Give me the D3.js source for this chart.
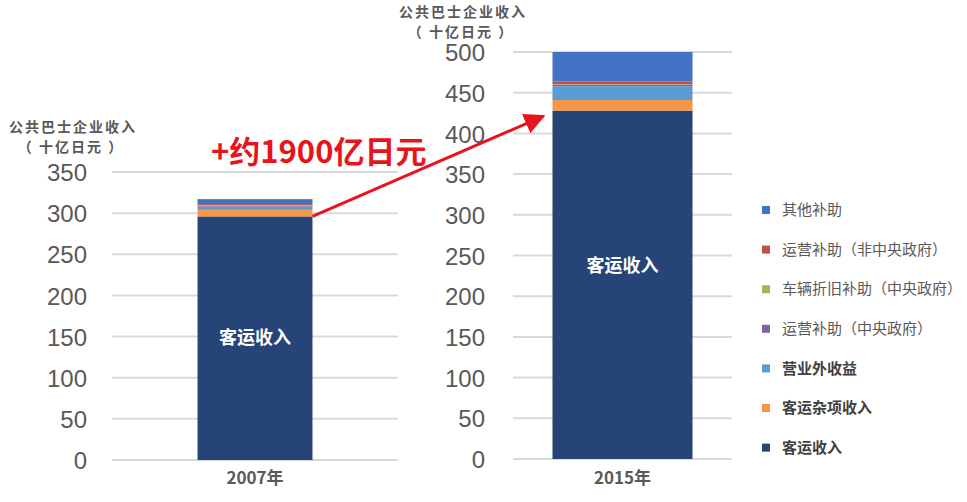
<!DOCTYPE html>
<html><head><meta charset="utf-8">
<script src="https://cdn.jsdelivr.net/npm/d3@7/dist/d3.min.js"></script>
<style>
html,body{margin:0;padding:0;background:#fff;}
svg{display:block;font-family:"Noto Sans CJK SC","Noto Sans",sans-serif;}
</style></head>
<body><svg id="c" width="967" height="502"></svg>
<script>
// ---- data ----
const years = ["2007年", "2015年"];
const seriesNames = ["客运收入", "客运杂项收入", "营业外收益", "运营补助（中央政府）", "车辆折旧补助（中央政府）", "运营补助（非中央政府）", "其他补助"];
const values2007 = [296, 8, 4, 1, 0.5, 1.5, 6];
const values2015 = [428, 13, 17, 2, 0.5, 3, 36.5];
const ticks2007 = [0, 50, 100, 150, 200, 250, 300, 350];
const ticks2015 = [0, 50, 100, 150, 200, 250, 300, 350, 400, 450, 500];
const axisTitle = ["公共巴士企业收入", "（ 十亿日元 ）"];
const barLabel = "客运收入";
const annotation = "+约1900亿日元";
const colors = ["#264478", "#f79646", "#5b9bd5", "#8064a2", "#9bbb59", "#c0504d", "#4472c4"];
const boldLegend = ["营业外收益", "客运杂项收入", "客运收入"];

const svg = d3.select("#c");
const gray = "#595959";

const panels = [
  {year: years[0], vals: values2007, ticks: ticks2007, max: 350, x0: 112, x1: 398, y0: 460, yTop: 172, pad: 0.4266, labelRight: 87, titleX: 73, titleY: 127, barLabelY: 338},
  {year: years[1], vals: values2015, ticks: ticks2015, max: 500, x0: 513, x1: 732, y0: 459, yTop: 52, pad: 0.22, labelRight: 485, titleX: 463, titleY: 12, barLabelY: 266}
];

const stack = d3.stack().keys(seriesNames);

panels.forEach(p => {
  const row = {year: p.year};
  seriesNames.forEach((k, i) => row[k] = p.vals[i]);
  const layers = stack([row]);
  const y = d3.scaleLinear().domain([0, p.max]).range([p.y0, p.yTop]);
  const x = d3.scaleBand().domain([p.year]).range([p.x0, p.x1]).paddingInner(p.pad).paddingOuter(p.pad);
  p.y = y; p.x = x; p.layers = layers;

  // gridlines
  svg.append("g").selectAll("line").data(p.ticks).join("line")
    .attr("x1", p.x0).attr("x2", p.x1)
    .attr("y1", d => y(d)).attr("y2", d => y(d))
    .attr("stroke", "#d9d9d9").attr("stroke-width", 2);

  // axis labels
  const ax = svg.append("g").attr("transform", `translate(${p.labelRight},0)`)
    .call(d3.axisLeft(y).tickValues(p.ticks).tickSize(0).tickPadding(0).tickFormat(d3.format("d")));
  ax.select(".domain").remove();
  ax.selectAll("text").attr("font-size", 24).attr("fill", gray)
    .attr("font-family", "'Liberation Sans','Noto Sans',sans-serif").attr("dy", "0.36em");

  // bars
  svg.append("g").selectAll("rect").data(layers).join("rect")
    .attr("x", x(p.year)).attr("width", x.bandwidth())
    .attr("y", d => y(d[0][1])).attr("height", d => y(d[0][0]) - y(d[0][1]))
    .attr("fill", (d, i) => colors[i]);

  // bar label
  svg.append("text").attr("x", x(p.year) + x.bandwidth() / 2)
    .attr("y", p.barLabelY).attr("dy", "0.35em")
    .attr("text-anchor", "middle").attr("fill", "#fff").attr("font-weight", "bold")
    .attr("font-size", 18).text(barLabel);

  // category label
  svg.append("text").attr("x", x(p.year) + x.bandwidth() / 2).attr("y", 478).attr("dy", "0.35em")
    .attr("text-anchor", "middle").attr("fill", gray).attr("font-weight", "bold")
    .attr("font-size", 17).text(p.year);

  // axis title
  svg.append("text").attr("x", p.titleX).attr("y", p.titleY).attr("dy", "0.35em")
    .attr("text-anchor", "middle").attr("fill", gray).attr("font-weight", "bold")
    .attr("font-size", 14).attr("letter-spacing", 2).text(axisTitle[0]);
  svg.append("text").attr("x", p.titleX - 2).attr("y", p.titleY + 20).attr("dy", "0.35em")
    .attr("text-anchor", "middle").attr("fill", gray).attr("font-weight", "bold")
    .attr("font-size", 14).attr("letter-spacing", 2).text(axisTitle[1]);
});

// arrow from top of 2007 passenger revenue to top of 2015 passenger revenue
const pA = panels[0], pB = panels[1];
const ax1 = pA.x(pA.year) + pA.x.bandwidth(), ay1 = pA.y(pA.layers[0][0][1]);
const ax2 = pB.x(pB.year) - 3, ay2 = pB.y(pB.layers[0][0][1]) + 3;
svg.append("defs").append("marker").attr("id", "ah").attr("viewBox", "0 0 10 10")
  .attr("refX", 9).attr("refY", 5).attr("markerWidth", 7).attr("markerHeight", 7)
  .attr("markerUnits", "strokeWidth").attr("orient", "auto")
  .append("path").attr("d", "M0,0 L10,5 L0,10 z").attr("fill", "#e8141b");
svg.append("line").attr("x1", ax1).attr("y1", ay1).attr("x2", ax2 - 6).attr("y2", ay2 + 2.5)
  .attr("stroke", "#e8141b").attr("stroke-width", 3).attr("marker-end", "url(#ah)");

svg.append("text").attr("x", 211).attr("y", 152).attr("dy", "0.35em")
  .attr("fill", "#e8141b").attr("font-weight", "bold").attr("font-size", 31).text(annotation);

// legend (top to bottom reversed order)
const legendItems = seriesNames.map((n, i) => ({name: n, color: colors[i]})).reverse();
const lg = svg.append("g").selectAll("g").data(legendItems).join("g")
  .attr("transform", (d, i) => `translate(762,${210 + i * 39.6})`);
lg.append("rect").attr("x", 0).attr("y", -4).attr("width", 8).attr("height", 8).attr("fill", d => d.color);
lg.append("text").attr("x", 20).attr("y", 0).attr("dy", "0.35em").attr("font-size", 15)
  .attr("fill", d => boldLegend.includes(d.name) ? "#404040" : gray)
  .attr("font-weight", d => boldLegend.includes(d.name) ? "bold" : "normal")
  .text(d => d.name);
</script>
</body></html>
